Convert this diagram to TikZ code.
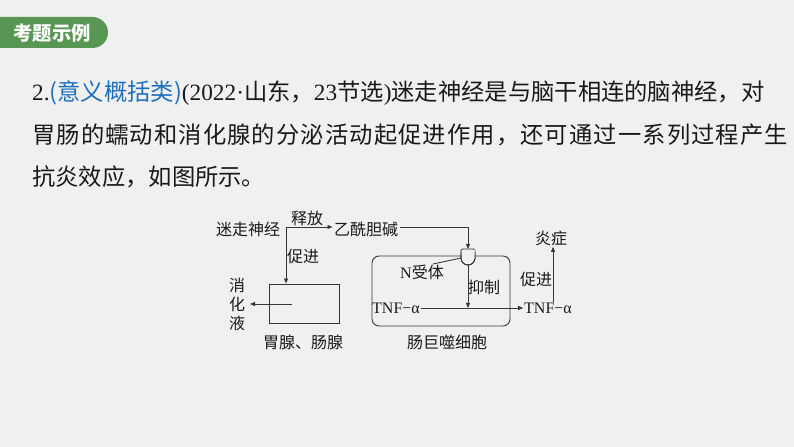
\documentclass[tikz,border=0pt]{standalone}
\usepackage{fontspec}
\setmainfont{Liberation Serif}
\newfontfamily\cjk{Noto Sans CJK SC}
\newfontfamily\cjkwide[LetterSpace=4.8]{Noto Sans CJK SC}
\usetikzlibrary{arrows.meta}
\definecolor{bg}{RGB}{240,240,240}
\definecolor{tabgreen}{RGB}{88,150,84}
\definecolor{qblue}{RGB}{30,110,190}
\definecolor{txt}{RGB}{25,25,25}
\definecolor{ln}{RGB}{55,55,55}
\begin{document}
\begin{tikzpicture}[x=1bp,y=-1bp,
  lbl/.style={inner sep=0pt, outer sep=1.5bp, font=\fontsize{16bp}{19bp}\selectfont\cjk, text=txt},
  lat/.style={inner sep=0pt, outer sep=1bp, font=\fontsize{16bp}{19bp}\selectfont, text=txt},
  conn/.style={draw=ln, line width=0.9bp},
  arr/.style={conn, -{Triangle[length=5bp,width=4bp]}},
  para/.style={inner sep=0pt, anchor=base west, text=txt, font=\fontsize{23.3bp}{28bp}\selectfont}]
\useasboundingbox[fill=bg] (0,0) rectangle (794,447);
% tab
\fill[tabgreen] (0,17) -- (92.5,17) arc[start angle=-90,end angle=90,radius=15.5] -- (0,48) -- cycle;
\node[inner sep=0pt, text=white, font=\fontsize{19.3bp}{22bp}\selectfont\cjk\bfseries] (tab) at (52,33) {考题示例};
% paragraph
\node[para] (l1) at (32,100.5) {2.{\cjk\color{qblue}(意义概括类)}(2022·{\cjk 山东，}23{\cjk 节选}){\cjk 迷走神经是与脑干相连的脑神经，对}};
\node[para] (l2) at (32,144) {\cjkwide 胃肠的蠕动和消化腺的分泌活动起促进作用，还可通过一系列过程产生};
\node[para] (l3) at (32,186) {\cjk 抗炎效应，如图所示。};
% diagram
\node[lbl] (vagus) at (248,229) {迷走神经};
\node[lbl] (rel) at (307,218) {释放};
\node[lbl] (ach) at (366,229) {乙酰胆碱};
\node[lbl] (prom1) at (303,256) {促进};
\node[conn, minimum width=70bp, minimum height=39bp, inner sep=0pt] (gland) at (304,303.5) {};
\node[lbl, align=center] (juice) at (237,304) {消\\化\\液};
\node[lbl] (glandlbl) at (303,342) {胃腺、肠腺};
\node[conn, rounded corners=7bp, minimum width=138bp, minimum height=70bp, inner sep=0pt] (cell) at (441,291) {};
\node[lbl] (celllbl) at (447,342) {肠巨噬细胞};
% receptor
\draw[conn, fill=bg, rounded corners=1.5bp] (461,258) -- (461,249) -- (475,249) -- (475,258);
\draw[conn, fill=bg] (461,258) -- (461,256) -- (475,256) -- (475,258) arc[start angle=0,end angle=180,radius=7] -- cycle;
\draw[draw=none, fill=bg] (461.5,250) rectangle (474.5,259);
\draw[conn] (475,252) -- (475,258) arc[start angle=0,end angle=180,radius=7] -- (461,252);
\coordinate (rtop) at (468,249);
\coordinate (rbot) at (468,265);
\coordinate (rleft) at (461,258);
\node[lat] (nrec) at (422,272) {N{\cjk 受体}};
\coordinate (nrecpt) at (433,264);
\draw[conn] (rleft) -- (nrecpt);
\node[lat] (tnf1) at (396,308) {TNF−α};
\node[lat] (tnf2) at (548,308) {TNF−α};
\node[lbl] (inh) at (484,287) {抑制};
\node[lbl] (infl) at (551,238) {炎症};
\node[lbl] (prom2) at (536,279) {促进};
% connectors
\coordinate (c1) at (286,227);
\draw[arr] (c1) -- (ach.west |- c1);
\draw[arr] (c1) -- (c1 |- gland.north);
\draw[arr] (ach.east |- c1) -| (rtop);
\coordinate (g1) at (292,304);
\coordinate (jt) at (250,304);
\draw[arr] (g1) -- (jt);
\draw[arr] (rbot) -- (rbot |- tnf1);
\draw[arr] (tnf1) -- (tnf2);
\coordinate (up) at (553,308);
\draw[arr] (up |- tnf2.north) -- (up |- infl.south);
\end{tikzpicture}
\end{document}
